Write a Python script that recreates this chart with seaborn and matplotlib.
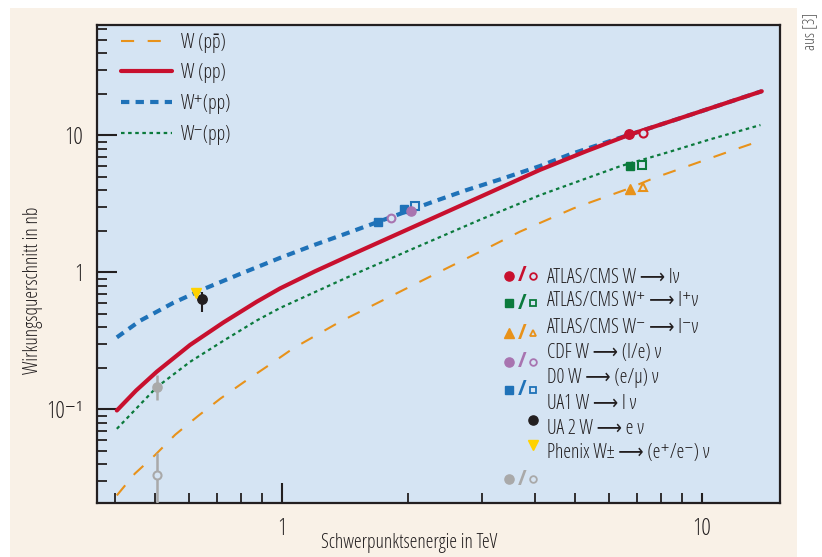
import numpy as np
import matplotlib
matplotlib.use('Agg')
import matplotlib.pyplot as plt
import matplotlib.ticker as mticker
import matplotlib.font_manager as fm
from matplotlib.patches import Rectangle
import seaborn as sns

sns.set_style('ticks')

# schmale Schrift suchen (Original ist eine Condensed-Schrift)
have = {(f.name, str(f.stretch), f.weight) for f in fm.fontManager.ttflist if f.style == 'normal'}
names = {(n, s) for n, s, w in have}
FAM, STRETCH = 'Roboto', 'normal'
for name, st in [('Liberation Sans Narrow', 'condensed'), ('Noto Sans', 'condensed'),
                 ('Open Sans', 'condensed'), ('DejaVu Sans', 'condensed'),
                 ('Noto Sans', 'semi-condensed'), ('Open Sans', 'semi-condensed')]:
    if (name, st) in names:
        FAM, STRETCH = name, st
        break
plt.rcParams['font.family'] = [FAM, 'DejaVu Sans']
plt.rcParams['font.stretch'] = STRETCH
if (FAM, STRETCH, 500) in have:
    plt.rcParams['font.weight'] = 500

#%%
# Kurven, Energie in TeV, Wirkungsquerschnitt in nb
E_ppbar = [0.405, 0.447, 0.499, 0.558, 0.632, 0.714, 0.813, 0.924, 1.066, 1.377, 1.844,
           2.47, 3.19, 3.69, 4.95, 6.63, 7.67, 11.89, 13.9]
W_ppbar = [0.0235, 0.0339, 0.0462, 0.0653, 0.0893, 0.1195, 0.158, 0.206, 0.279, 0.436, 0.683,
           1.07, 1.58, 1.98, 2.93, 4.04, 4.86, 7.81, 9.2]

E_pp = [0.405, 0.45, 0.504, 0.605, 0.726, 0.872, 0.991, 1.2, 1.43, 2.06, 2.97, 4.12, 5.33,
        6.72, 8.72, 13.9]
W_pp = [0.098, 0.137, 0.188, 0.295, 0.43, 0.61, 0.763, 1.017, 1.30, 2.15, 3.56, 5.6, 7.7,
        10.1, 13.1, 21.0]

E_wplus = [0.405, 0.46, 0.552, 0.651, 0.796, 0.991, 1.189, 1.428, 2.296, 2.757, 3.31, 4.12,
           4.86, 6.05, 6.72, 8.72, 13.9]
W_wplus = [0.335, 0.443, 0.599, 0.754, 0.973, 1.275, 1.575, 1.926, 3.28, 3.99, 4.77, 5.97,
           7.27, 9.09, 10.1, 13.1, 21.0]

E_wminus = [0.405, 0.504, 0.605, 0.726, 0.872, 0.991, 1.428, 2.057, 2.966, 4.12, 5.33,
            6.38, 8.4, 10.47, 13.8]
W_wminus = [0.072, 0.145, 0.222, 0.316, 0.445, 0.549, 0.915, 1.49, 2.42, 3.66, 4.87,
            5.94, 7.6, 9.35, 11.9]

# Messpunkte
atlas_w_E, atlas_w_s = [6.72, 7.26], [10.2, 10.35]
atlas_wp_E, atlas_wp_s = [6.75, 7.22], [6.0, 6.07]
atlas_wm_E, atlas_wm_s = [6.75, 7.26], [4.04, 4.17]
cdf_E, cdf_s = [2.03, 1.82], [2.79, 2.48]
d0_E, d0_s = [1.70, 1.955, 2.08], [2.34, 2.88, 3.05]
ua2_E, ua2_s, ua2_lo, ua2_hi = [0.645], [0.635], [0.516], [0.722]
phenix_E, phenix_s = [0.625], [0.703]
gray_E, gray_s, gray_lo, gray_hi = [0.504, 0.505], [0.146, 0.0331], [0.117, 0.01], [0.178, 0.0482]

line_labels = ['W (pp\u0304)', 'W (pp)', 'W\u207a(pp)', 'W\u207b(pp)']
point_labels = ['ATLAS/CMS W \u27f6 l\u03bd',
                'ATLAS/CMS W\u207a \u27f6 l\u207a\u03bd',
                'ATLAS/CMS W\u207b \u27f6 l\u207b\u03bd',
                'CDF W \u27f6 (l/e) \u03bd',
                'D0 W \u27f6 (e/\u03bc) \u03bd',
                'UA1 W \u27f6 l \u03bd',
                'UA 2 W \u27f6 e \u03bd',
                'Phenix W\u00b1 \u27f6 (e\u207a/e\u207b) \u03bd']
xlabel = 'Schwerpunktsenergie in TeV'
ylabel = 'Wirkungsquerschnitt in nb'

CREAM = '#F9F1E7'
BG = '#D5E4F3'
ORANGE = '#E8921A'
RED = '#C8102E'
BLUE = '#1F72B8'
GREEN = '#0B7A3C'
PURPLE = '#A874B0'
GRAY = '#A9A9A9'
YELLOW = '#FFD200'
BLACK = '#231F20'

#%%
fig = plt.figure(figsize=(8.22, 5.57), dpi=100)
fig.patch.set_facecolor('white')

# Schriftgroesse so waehlen, dass die x-Beschriftung ~178 px breit ist
rend = fig.canvas.get_renderer()
probe = fig.text(0, 0, xlabel, fontsize=10)
FS = float(np.clip(10 * 178 / probe.get_window_extent(rend).width, 9.5, 15))
probe.remove()
FSPX = FS * 100 / 72

fig.patches.append(Rectangle((10 / 822, 0), 787 / 822, 549 / 557, transform=fig.transFigure,
                             facecolor=CREAM, edgecolor='none', zorder=-10))
ax = fig.add_axes([0.1176, 0.0970, 0.8313, 0.8582])
ax.set_facecolor(BG)
ax.set_xscale('log')
ax.set_yscale('log')

sns.lineplot(x=E_ppbar, y=W_ppbar, ax=ax, color=ORANGE, lw=1.5, linestyle=(0, (6.3, 6.5)),
             sort=False, errorbar=None)
l_ppbar = ax.lines[-1]
sns.lineplot(x=E_wminus, y=W_wminus, ax=ax, color=GREEN, lw=1.6, linestyle=(0, (1.6, 1.6)),
             sort=False, errorbar=None)
l_wm = ax.lines[-1]
sns.lineplot(x=E_wplus, y=W_wplus, ax=ax, color=BLUE, lw=3.0, linestyle=(0, (2.0, 1.5)),
             sort=False, errorbar=None)
l_wp = ax.lines[-1]
sns.lineplot(x=E_pp, y=W_pp, ax=ax, color=RED, lw=3.0, sort=False, errorbar=None)
l_pp = ax.lines[-1]

# Messpunkte (gefuellt / offen)
def pts(E, s, marker, color, ms, filled=True, z=6):
    if filled:
        ax.plot(E, s, ls='none', marker=marker, ms=ms, color=color, mec=color, zorder=z)
    else:
        ax.plot(E, s, ls='none', marker=marker, ms=ms, mfc=BG, mec=color, mew=1.5, zorder=z)

pts(atlas_w_E[:1], atlas_w_s[:1], 'o', RED, 6.8)
pts(atlas_w_E[1:], atlas_w_s[1:], 'o', RED, 5.8, filled=False)
pts(atlas_wp_E[:1], atlas_wp_s[:1], 's', GREEN, 6.3)
pts(atlas_wp_E[1:], atlas_wp_s[1:], 's', GREEN, 5.6, filled=False)
pts(atlas_wm_E[:1], atlas_wm_s[:1], '^', ORANGE, 7.0)
pts(atlas_wm_E[1:], atlas_wm_s[1:], '^', ORANGE, 6.0, filled=False)
pts(d0_E[:2], d0_s[:2], 's', BLUE, 6.3)
pts(d0_E[2:], d0_s[2:], 's', BLUE, 5.6, filled=False, z=5)
pts(cdf_E[:1], cdf_s[:1], 'o', PURPLE, 6.6, z=7)
pts(cdf_E[1:], cdf_s[1:], 'o', PURPLE, 5.6, filled=False)

ax.errorbar(ua2_E, ua2_s, yerr=[np.subtract(ua2_s, ua2_lo), np.subtract(ua2_hi, ua2_s)],
            fmt='o', ms=6.8, color=BLACK, elinewidth=1.5, capsize=0, zorder=6)
pts(phenix_E, phenix_s, 'v', YELLOW, 7.5, z=7)
gerr = [np.subtract(gray_s, gray_lo), np.subtract(gray_hi, gray_s)]
ax.errorbar(gray_E, gray_s, yerr=gerr, fmt='none', ecolor=GRAY, elinewidth=1.8, capsize=0, zorder=5)
pts(gray_E[:1], gray_s[:1], 'o', GRAY, 6.6)
pts(gray_E[1:], gray_s[1:], 'o', GRAY, 5.8, filled=False)

#%%
# Achsen
ax.set_xlim(0.3626, 15.36)
ax.set_ylim(0.0207, 64)
ax.xaxis.set_major_locator(mticker.FixedLocator([1, 10]))
ax.xaxis.set_major_formatter(mticker.FixedFormatter(['1', '10']))
ax.xaxis.set_minor_locator(mticker.LogLocator(base=10, subs=np.arange(2, 10), numticks=20))
ax.xaxis.set_minor_formatter(mticker.NullFormatter())
ax.yaxis.set_major_locator(mticker.FixedLocator([0.1, 1, 10]))
ax.yaxis.set_major_formatter(mticker.FixedFormatter(['10\u207b\u00b9', '1', '10']))
ax.yaxis.set_minor_locator(mticker.LogLocator(base=10, subs=np.arange(2, 10), numticks=20))
ax.yaxis.set_minor_formatter(mticker.NullFormatter())

ax.tick_params(which='both', direction='in', color=BLACK, labelcolor=BLACK,
               top=False, right=False)
ax.tick_params(which='major', length=14.4, width=1.5, labelsize=FS * 1.2)
ax.tick_params(which='minor', length=7.2, width=1.3)
ax.tick_params(axis='x', which='major', pad=10)
ax.tick_params(axis='y', which='major', pad=9.5)
ax.xaxis.get_major_ticks()[1].tick1line.set_markersize(7.2)
for sp in ax.spines.values():
    sp.set_visible(True)
    sp.set_color(BLACK)
    sp.set_linewidth(1.6)

ax.set_xlabel(xlabel, fontsize=FS, color=BLACK)
ax.set_ylabel(ylabel, fontsize=FS, color=BLACK)
ax.xaxis.set_label_coords(0.457, -0.063)
ax.yaxis.set_label_coords(-0.078, 0.444)

#%%
# Legenden
ax.legend(handles=[l_ppbar, l_pp, l_wp, l_wm], labels=line_labels, loc='upper left',
          bbox_to_anchor=(0.0356, 0.984), frameon=False, fontsize=FS,
          handlelength=51 / FSPX, handletextpad=9 / FSPX,
          labelspacing=max(30 / FSPX - 0.98, 0.1), borderpad=0, borderaxespad=0,
          labelcolor=BLACK)

key_x = [0.6035, 0.622, 0.638]
text_x = 0.6595
text_y = [0.4713, 0.4226, 0.3654, 0.313, 0.261, 0.2064, 0.154, 0.104]
pair_keys = [(0.4749, RED, 'o', 6.6, 4.8), (0.4178, GREEN, 's', 6.0, 4.8),
             (0.355, ORANGE, '^', 6.5, 5.0), (0.2957, PURPLE, 'o', 6.6, 4.8),
             (0.2364, BLUE, 's', 6.0, 4.8), (0.0495, GRAY, 'o', 6.6, 4.8)]
for ky, col, mk, fs, os_ in pair_keys:
    ax.plot([key_x[0]], [ky], transform=ax.transAxes, ls='none', marker=mk, ms=fs,
            color=col, mec=col, clip_on=False)
    ax.text(key_x[1], ky, '/', transform=ax.transAxes, color=col, ha='center', va='center',
            fontsize=15, fontweight='bold')
    ax.plot([key_x[2]], [ky], transform=ax.transAxes, ls='none', marker=mk, ms=os_,
            mfc='none', mec=col, mew=1.3, clip_on=False)
ax.plot([key_x[2]], [0.1736], transform=ax.transAxes, ls='none', marker='o', ms=6.6, color=BLACK)
ax.plot([key_x[2]], [0.1213], transform=ax.transAxes, ls='none', marker='v', ms=7.0, color=YELLOW)
for ty, lab in zip(text_y, point_labels):
    ax.text(text_x, ty, lab, transform=ax.transAxes, ha='left', va='center', fontsize=FS,
            color=BLACK)

fig.text(0.985, 0.944, 'aus [3]', rotation=90, ha='center', va='center', fontsize=FS * 0.8,
         color='#505050')

fig.savefig('out.png', dpi=100, facecolor=fig.get_facecolor())
